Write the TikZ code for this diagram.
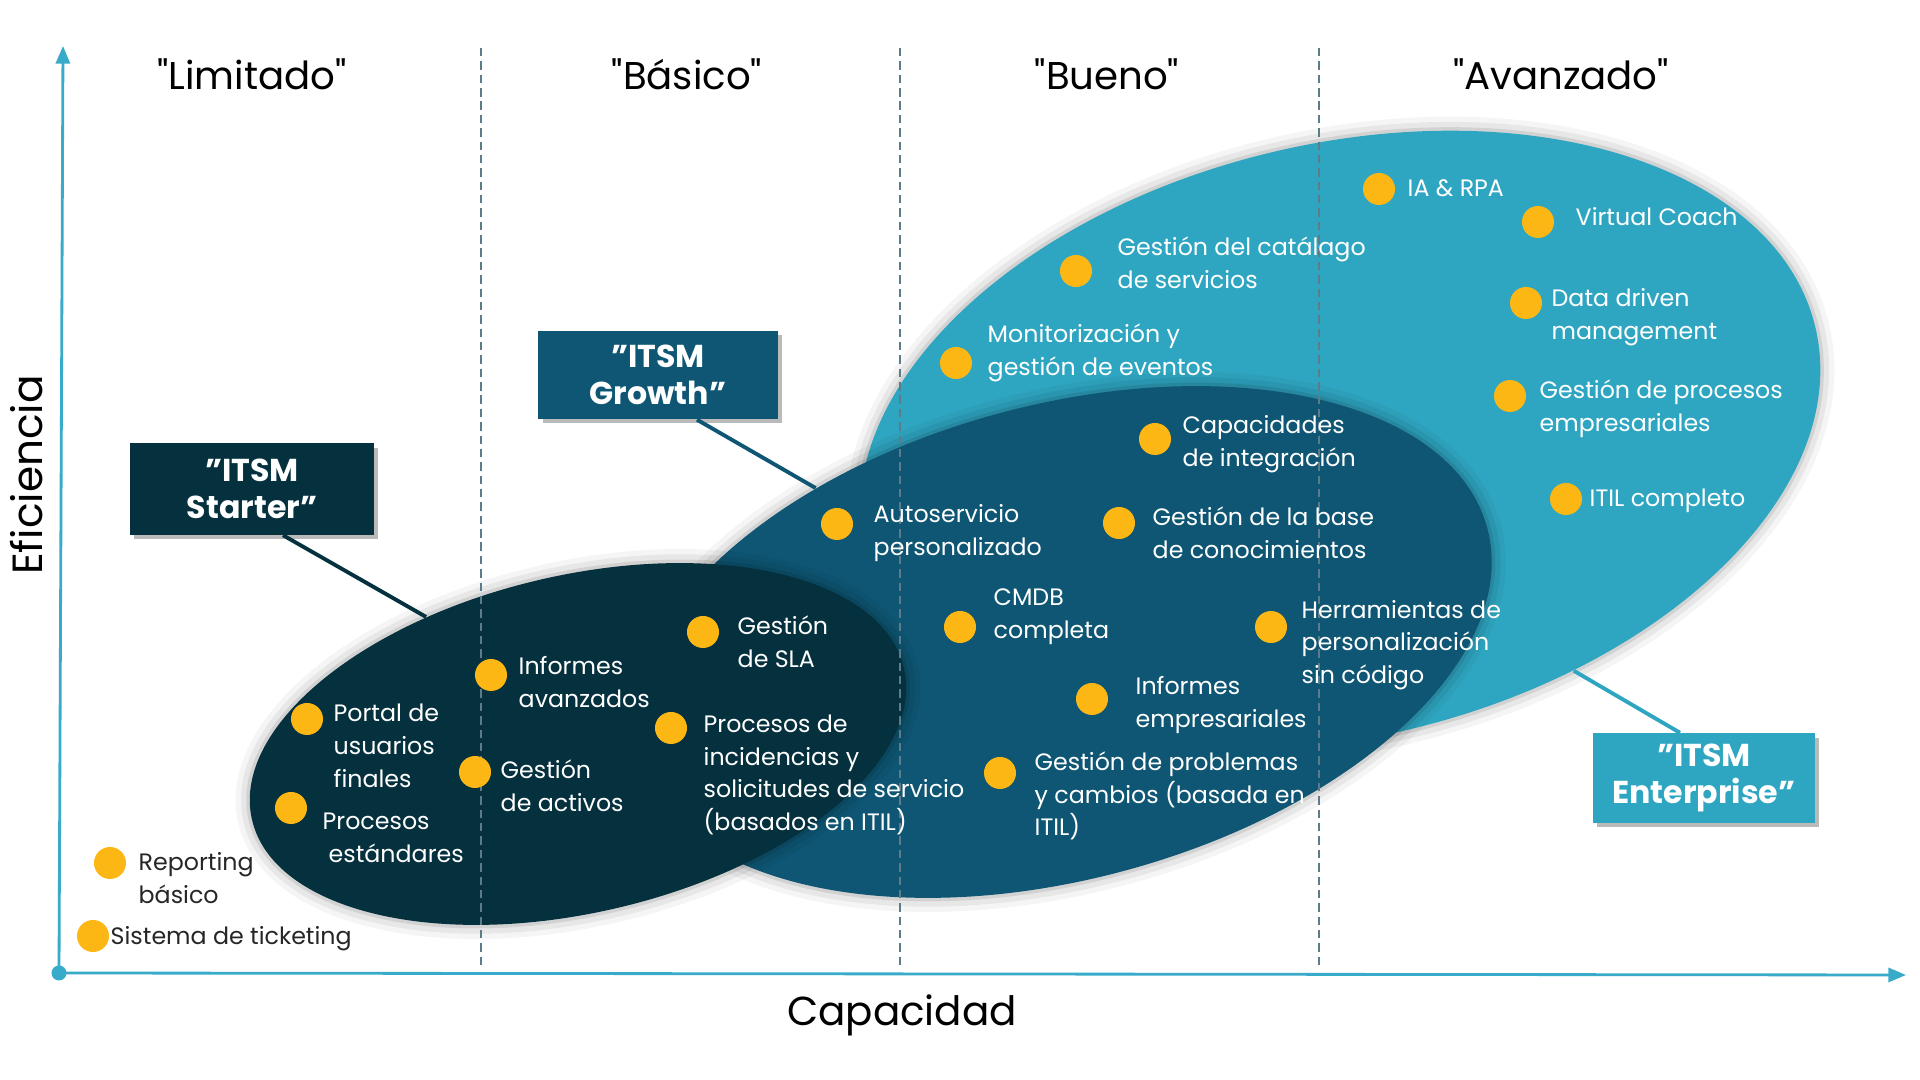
\documentclass[tikz,border=0pt]{standalone}
\usepackage{fontspec}
\setmainfont{Poppins}[Ligatures=TeXOff]
\usetikzlibrary{arrows.meta, positioning, shapes.geometric, shadows}
\definecolor{entc}{HTML}{2FA6C1}
\definecolor{groc}{HTML}{0E5673}
\definecolor{stac}{HTML}{05303E}
\definecolor{dotc}{HTML}{FDB714}
\definecolor{axisc}{HTML}{38AACA}
\definecolor{sepc}{HTML}{5E7B89}

\begin{document}
\begin{tikzpicture}[x=0.01cm, y=-0.01cm,
  oval/.style={ellipse, inner sep=0pt,
    preaction={draw=black, draw opacity=0.04, line width=8pt},
    preaction={draw=black, draw opacity=0.06, line width=5pt},
    preaction={draw=black, draw opacity=0.09, line width=2pt}},
  tag/.style={align=center, text=white, inner sep=0pt, font=\bfseries\fontsize{9}{10.5}\selectfont,
    drop shadow={shadow xshift=1.2pt, shadow yshift=-1.2pt, opacity=0.45, fill=black!60}},
  dot/.style={circle, fill=dotc, inner sep=0pt, minimum size=0.32cm},
  lbl/.style={anchor=west, inner sep=0pt, align=left, text=white, font=\fontsize{6.75}{9.3}\selectfont},
  head/.style={font=\fontsize{11}{13}\selectfont},
  sep/.style={draw=sepc, line width=0.45pt, dash pattern=on 2.4pt off 1.4pt},
  axis/.style={draw=axisc, line width=0.8pt},
  link/.style={line width=1.1pt}
]
  \useasboundingbox (0,0) rectangle (1920,1080);

  % capability areas
  \node[oval, fill=entc, minimum width=9.77cm, minimum height=5.93cm, rotate=13.5] (enterprise) at (1340,441) {};
  \node[oval, fill=groc, minimum width=8.8cm, minimum height=4.74cm, rotate=15] (growth) at (1062,642) {};
  \node[oval, fill=stac, minimum width=6.69cm, minimum height=3.37cm, rotate=13.1] (starter) at (578,744) {};

  % level separators
  \foreach \x in {481,900,1319}
    \draw[sep] (\x,48) -- (\x,970);

  % level headings
  \node[head] (limitado) at (252,74) {"Limitado"};
  \node[head] (basico) at (687,74) {"Básico"};
  \node[head] (bueno) at (1107,74) {"Bueno"};
  \node[head] (avanzado) at (1561,74) {"Avanzado"};

  % product tags
  \node[tag, fill=stac, minimum width=2.44cm, minimum height=0.91cm] (starterlbl) at (252,489) {”ITSM\\Starter”};
  \node[tag, fill=groc, minimum width=2.39cm, minimum height=0.88cm] (growthlbl) at (658,375) {”ITSM\\Growth”};
  \node[tag, fill=entc, minimum width=2.22cm, minimum height=0.89cm] (enterpriselbl) at (1704,778) {”ITSM\\Enterprise”};

  \draw[link, draw=stac] ([xshift=0.31cm]starterlbl.south) -- (starter.127);
  \draw[link, draw=groc] ([xshift=0.39cm]growthlbl.south) -- (growth.133);
  \draw[link, draw=entc] (enterprise.302) -- ([xshift=-0.24cm]enterpriselbl.north);

  % enterprise items
  \node[dot] (drpa) at (1379,189) {};
  \node[lbl] (trpa) at (1407,188) {IA \& RPA};
  \node[dot] (dcoach) at (1538,222) {};
  \node[lbl] (tcoach) at (1575,217) {Virtual Coach};
  \node[dot] (dcat) at (1076,271) {};
  \node[lbl] (tcat) at (1117,263) {Gestión del catálago\\de servicios};
  \node[dot] (dmon) at (956,363) {};
  \node[lbl] (tmon) at (987,353) {Monitorización y\\gestión de eventos};
  \node[dot] (ddata) at (1526,303) {};
  \node[lbl] (tdata) at (1551,317) {Data driven\\management};
  \node[dot] (dbpm) at (1510,396) {};
  \node[lbl] (tbpm) at (1539,409) {Gestión de procesos\\empresariales};
  \node[dot] (ditil) at (1566,499) {};
  \node[lbl] (titil) at (1589,501) {ITIL completo};
  \node[dot] (dtools) at (1271,627) {};
  \node[lbl] (ttools) at (1301,645) {Herramientas de\\personalización\\sin código};

  % growth items
  \node[dot] (dint) at (1155,439) {};
  \node[lbl] (tint) at (1182,444) {Capacidades\\de integración};
  \node[dot] (dkb) at (1119,523) {};
  \node[lbl] (tkb) at (1152,533) {Gestión de la base\\de conocimientos};
  \node[dot] (dself) at (837,524) {};
  \node[lbl] (tself) at (873,533) {Autoservicio\\personalizado};
  \node[dot] (dcmdb) at (960,627) {};
  \node[lbl] (tcmdb) at (993,617) {CMDB\\completa};
  \node[dot] (drep) at (1092,699) {};
  \node[lbl] (trep) at (1135,705) {Informes\\empresariales};
  \node[dot] (dprob) at (1000,773) {};
  \node[lbl] (tprob) at (1034,796) {Gestión de problemas\\y cambios (basada en\\ITIL)};

  % starter items
  \node[dot] (dsla) at (703,632) {};
  \node[lbl] (tsla) at (737,642) {Gestión\\de SLA};
  \node[dot] (dinc) at (671,728) {};
  \node[lbl] (tinc) at (703,775) {Procesos de\\incidencias y\\solicitudes de servicio\\(basados en ITIL)};
  \node[dot] (dadv) at (491,675) {};
  \node[lbl] (tadv) at (518,682) {Informes\\avanzados};
  \node[dot] (dport) at (307,719) {};
  \node[lbl] (tport) at (333,746) {Portal de\\usuarios\\finales};
  \node[dot] (dasset) at (475,772) {};
  \node[lbl] (tasset) at (500,786) {Gestión\\de activos};
  \node[dot] (dstd) at (291,808) {};
  \node[lbl] (tstd) at (322,838) {Procesos\\\hspace*{1.7pt}estándares};

  % basic items
  \node[dot] (dbasic) at (110,863) {};
  \node[lbl, text=black!85] (tbasic) at (138,878) {Reporting\\básico};
  \node[dot] (dtick) at (93,936) {};
  \node[lbl, text=black!85] (ttick) at (110,939) {Sistema de ticketing};

  % axes
  \node[circle, fill=axisc, inner sep=0pt, minimum size=0.15cm] (origin) at (59,973) {};
  \coordinate (ytip) at (63,46);
  \coordinate (xtip) at (1906,975);
  \draw[axis, -{Triangle[length=5pt, width=4pt]}] (origin.center) -- (ytip);
  \draw[axis, -{Triangle[length=5pt, width=4pt]}] (origin.center) -- (xtip);
  \node[font=\fontsize{12}{14}\selectfont, rotate=90] (eje) at (27,475) {Eficiencia};
  \node[font=\fontsize{11.5}{14}\selectfont] (cap) at (902,1015) {Capacidad};
\end{tikzpicture}
\end{document}
